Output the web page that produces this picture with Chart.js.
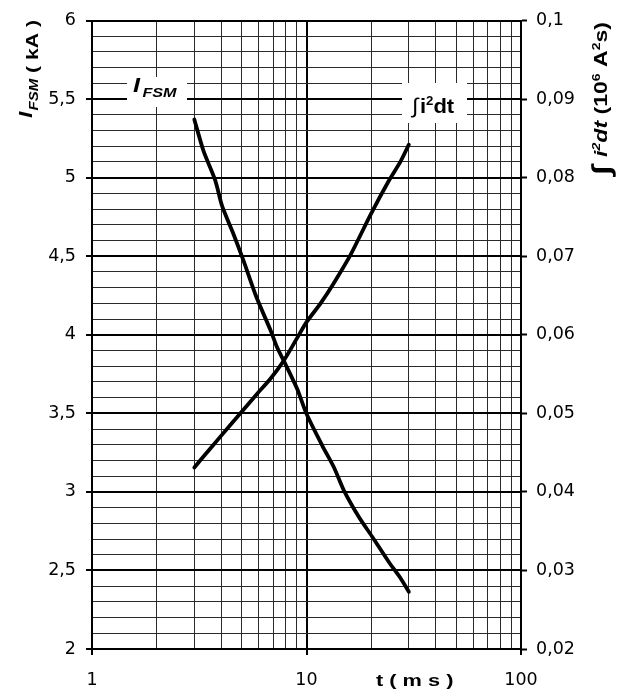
<!DOCTYPE html>
<html><head><meta charset="utf-8">
<script src="https://cdn.jsdelivr.net/npm/chart.js@4.4.1/dist/chart.umd.min.js"></script>
<style>html,body{margin:0;padding:0;background:#fff}#wrap{width:625px;height:697px}</style>
</head><body><div id="wrap"><canvas id="c" width="625" height="697"></canvas></div>
<script>
// ---- data ----
const tIfsm  = [3, 3.31, 3.76, 4.04, 4.57, 5.09, 5.84, 6.79, 7.29, 7.83, 9.05, 10, 11.84, 13.42, 14.93, 17.55, 20.28, 24.2, 27.5, 30];
const ifsmKA = [5.37, 5.17, 4.98, 4.82, 4.64, 4.47, 4.24, 4.03, 3.92, 3.835, 3.655, 3.497, 3.295, 3.157, 3.01, 2.84, 2.713, 2.554, 2.449, 2.364];
const tI2t   = [3, 3.31, 3.96, 4.92, 5.89, 6.79, 7.83, 9.05, 10, 11.63, 13.42, 16.06, 19.9, 24.2, 27.5, 30];
const i2tVal = [0.0431, 0.0445, 0.0470, 0.0500, 0.0525, 0.0544, 0.0567, 0.0596, 0.0616, 0.0640, 0.0666, 0.0702, 0.0753, 0.0796, 0.0821, 0.0842];

const xGridValues = [1,2,3,4,5,6,7,8,9,10,20,30,40,50,60,70,80,90,100];
const xTickLabels = [1, 10, 100];
const leftLabelValues  = [2, 2.5, 3, 3.5, 4, 4.5, 5, 5.5, 6];
const rightTickValues  = [0.02, 0.03, 0.04, 0.05, 0.06, 0.07, 0.08, 0.09, 0.1];

const TICKFONT = "'DejaVu Sans', 'Liberation Sans', sans-serif";
const FONT = "'Liberation Sans', Arial, sans-serif";
const leftGrid = [];
for (let i = 20; i <= 60; i++) leftGrid.push(i / 10);
const isMajorL = v => leftLabelValues.some(m => Math.abs(m - v) < 1e-6);
const comma = v => String(Math.round(v * 1000) / 1000).replace('.', ',');

const annot = {
  id: 'annot',
  afterDraw(chart) {
    const ctx = chart.ctx;
    ctx.save();
    ctx.fillStyle = '#000';
    ctx.textBaseline = 'alphabetic';
    // pieces: [text, font, dy, extraGap]; drawn with horizontal stretch sx
    const rich = (pieces, x, y, sx, rot) => {
      ctx.save();
      ctx.translate(x, y);
      if (rot) ctx.rotate(rot);
      ctx.scale(sx, 1);
      let cx = 0;
      for (const p of pieces) {
        ctx.font = p[1];
        ctx.fillText(p[0], cx, p[2] || 0);
        cx += ctx.measureText(p[0]).width + (p[3] || 0);
      }
      ctx.restore();
    };
    // in-chart label boxes
    ctx.fillStyle = '#fff';
    ctx.fillRect(127, 77, 60, 30);
    ctx.fillRect(402, 83, 65, 40);
    ctx.fillStyle = '#000';
    rich([['I', 'italic bold 21px ' + FONT, 0, 2], ['FSM', 'italic bold 13.5px ' + FONT, 5]], 133, 92, 1.2);
    rich([['\u222B', '21px ' + FONT, 0, 1.5], ['i', 'bold 20px ' + FONT], ['2', 'bold 12px ' + FONT, -8], ['dt', 'bold 20px ' + FONT]], 412, 113, 1.1);

    // x-axis title
    rich([['t ( m s )', 'bold 17px ' + FONT]], 376, 686, 1.28);

    // left title (rotated)
    rich([['I', 'italic bold 18px ' + FONT, -6, 1], ['FSM', 'italic bold 12px ' + FONT, 0], [' ( kA )', 'bold 17px ' + FONT, 0]],
         38, 118, 1.25, -Math.PI / 2);

    // right title (rotated)
    rich([['\u222B', 'bold 26px ' + FONT, 3, 7], ['i', 'italic bold 18px ' + FONT], ['2', 'italic bold 11px ' + FONT, -7], ['dt', 'italic bold 18px ' + FONT],
          [' (10', 'bold 18px ' + FONT], ['6', 'bold 11px ' + FONT, -7], [' A', 'bold 18px ' + FONT], ['2', 'bold 11px ' + FONT, -7], ['s)', 'bold 18px ' + FONT]],
         607, 175, 1.28, -Math.PI / 2);
    ctx.restore();
  }
};

const lineStyle = { borderColor: '#000', borderWidth: 3.8, pointRadius: 0, tension: 0.25, fill: false,
                    borderJoinStyle: 'round', borderCapStyle: 'round' };

new Chart(document.getElementById('c'), {
  type: 'line',
  data: {
    datasets: [
      Object.assign({ label: 'IFSM', data: tIfsm.map((t, i) => ({ x: t, y: ifsmKA[i] })), yAxisID: 'y' }, lineStyle),
      Object.assign({ label: 'i2t', data: tI2t.map((t, i) => ({ x: t, y: i2tVal[i] })), yAxisID: 'y2' }, lineStyle)
    ]
  },
  options: {
    responsive: false,
    animation: false,
    events: [],
    layout: { padding: { top: 19, left: 0, right: 0, bottom: 0 } },
    plugins: { legend: { display: false }, tooltip: { enabled: false } },
    scales: {
      x: {
        type: 'logarithmic', min: 1, max: 100,
        afterBuildTicks: s => { s.ticks = xGridValues.map(v => ({ value: v })); },
        afterFit: s => { s.height = 48; },
        ticks: { autoSkip: false, maxRotation: 0, padding: 15, color: '#000', font: { family: TICKFONT, size: 17.5 },
                 callback: v => xTickLabels.includes(v) ? String(v) : '' },
        grid: { color: c => (c.tick && xTickLabels.includes(c.tick.value)) ? '#000' : '#2a2a2a',
                lineWidth: c => (c.tick && xTickLabels.includes(c.tick.value)) ? 2 : 1,
                tickLength: 6, tickWidth: 2,
                tickColor: c => (c.tick && xTickLabels.includes(c.tick.value)) ? '#000' : 'rgba(0,0,0,0)' },
        border: { display: true, color: '#000', width: 2 }
      },
      y: {
        position: 'left', min: 2, max: 6,
        afterBuildTicks: s => { s.ticks = leftGrid.map(v => ({ value: v })); },
        afterFit: s => { s.width = 92; },
        ticks: { autoSkip: false, padding: 10, color: '#000', font: { family: TICKFONT, size: 17.5 },
                 callback: v => isMajorL(v) ? comma(v) : '' },
        grid: { color: c => (c.tick && isMajorL(c.tick.value)) ? '#000' : '#2a2a2a',
                lineWidth: c => (c.tick && isMajorL(c.tick.value)) ? 2 : 1,
                tickLength: 6, tickWidth: 2,
                tickColor: c => (c.tick && isMajorL(c.tick.value)) ? '#000' : 'rgba(0,0,0,0)' },
        border: { display: true, color: '#000', width: 2 }
      },
      y2: {
        position: 'right', min: 0.02, max: 0.1,
        afterBuildTicks: s => { s.ticks = rightTickValues.map(v => ({ value: v })); },
        afterFit: s => { s.width = 104; },
        ticks: { autoSkip: false, padding: 9, color: '#000', font: { family: TICKFONT, size: 17.5 },
                 callback: v => comma(v) },
        grid: { drawOnChartArea: false, color: '#000', tickLength: 6, tickWidth: 2, tickColor: '#000' },
        border: { display: true, color: '#000', width: 2 }
      }
    }
  },
  plugins: [annot]
});
</script>
</body></html>
